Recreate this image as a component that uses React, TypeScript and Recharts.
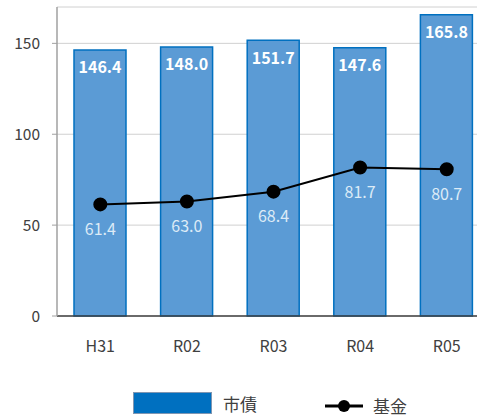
import React from 'react';
import { ComposedChart, Bar, Line, XAxis, YAxis, CartesianGrid, LabelList } from 'recharts';

const years = ['H31', 'R02', 'R03', 'R04', 'R05'];
const bonds = [146.4, 148.0, 151.7, 147.6, 165.8];
const fund = [61.4, 63.0, 68.4, 81.7, 80.7];
const yTicks = [0, 50, 100, 150];
const separators = [1, 2, 3, 4];

const FONT = '"Noto Sans CJK JP", "Noto Sans", sans-serif';

const chartData = years.map((year, i) => ({ year, bonds: bonds[i], fund: fund[i] }));

const App: React.FC = () => {
  return (
    <div style={{ position: 'absolute', left: 0, top: 0, width: 477, height: 417, overflow: 'hidden', background: '#fff', fontFamily: FONT }}>
      <ComposedChart width={490} height={417} data={chartData} margin={{ top: 7, right: 0, bottom: 0, left: 0 }}>
        <CartesianGrid vertical={false} stroke="#D0D0D0" strokeWidth={1} />
        {/* boundary ticks between categories */}
        <XAxis
          xAxisId="sep"
          type="number"
          domain={[0, 5]}
          ticks={separators}
          height={0}
          mirror
          axisLine={false}
          tickSize={4}
          tickLine={{ stroke: '#404040', strokeWidth: 1 }}
          tick={() => null}
        />
        <XAxis
          dataKey="year"
          height={101}
          axisLine={{ stroke: '#404040', strokeWidth: 1.5 }}
          tickLine={false}
          tickMargin={19}
          tick={{ fill: '#404040', fontSize: 16, fontFamily: FONT }}
        />
        <YAxis
          width={57}
          domain={[0, 170]}
          ticks={yTicks}
          interval={0}
          axisLine={{ stroke: '#A0A0A0', strokeWidth: 1.5 }}
          tickLine={{ stroke: '#A0A0A0' }}
          tickSize={5}
          tickMargin={12}
          tick={{ fill: '#404040', fontSize: 15.5, fontFamily: FONT }}
        />
        <Bar dataKey="bonds" barSize={52} fill="#5B9BD5" stroke="#0070C0" strokeWidth={1.5} isAnimationActive={false}>
          <LabelList dataKey="bonds" position="insideTop" offset={12} formatter={(v: any) => Number(v).toFixed(1)}
            style={{ fill: '#FFFFFF', fontSize: 16, fontWeight: 700, fontFamily: FONT }} />
        </Bar>
        <Line dataKey="fund" stroke="#000000" strokeWidth={2} dot={{ r: 6, fill: '#000', stroke: '#000' }} isAnimationActive={false}>
          <LabelList dataKey="fund" position="bottom" offset={19} formatter={(v: any) => Number(v).toFixed(1)}
            style={{ fill: '#DDEBF7', fontSize: 16, fontFamily: FONT }} />
        </Line>
      </ComposedChart>
      <div style={{ position: 'absolute', left: 133, top: 392, width: 77, height: 20, background: '#0070C0', border: '1.5px solid #7F96B2' }} />
      <div style={{ position: 'absolute', left: 223, top: 392, fontSize: 17, lineHeight: '24px', color: '#404040' }}>市債</div>
      <svg style={{ position: 'absolute', left: 322, top: 395 }} width={44} height={22}>
        <line x1={3} y1={11} x2={41} y2={11} stroke="#000" strokeWidth={3} />
        <circle cx={22} cy={11} r={6} fill="#000" />
      </svg>
      <div style={{ position: 'absolute', left: 373, top: 394, fontSize: 17, lineHeight: '24px', color: '#404040' }}>基金</div>
    </div>
  );
};

export default App;
